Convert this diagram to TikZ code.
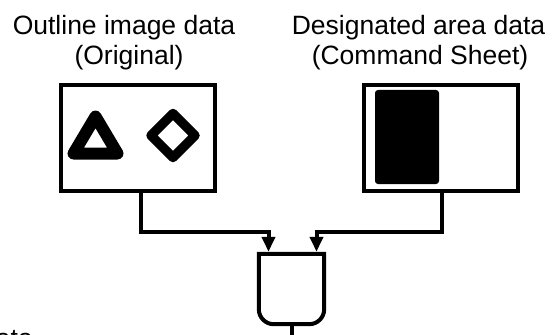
\documentclass[tikz,border=0pt]{standalone}
\usepackage{fontspec}
\setmainfont{Liberation Sans}
\usetikzlibrary{arrows.meta}
\begin{document}
\begin{tikzpicture}[x=1pt,y=-1pt,
  lbl/.style={font=\fontsize{26.5}{30}\selectfont, inner sep=0pt, anchor=base},
  frame/.style={draw, line width=4pt, minimum width=154pt, minimum height=106pt, inner sep=0pt},
  conn/.style={line width=4pt, -{Triangle[width=13pt,length=15pt]}},
  thick line/.style={line width=4pt}]
\clip (0,0) rectangle (553,334);
% titles
\node[lbl] (t1a) at (124,35) {Outline image data};
\node[lbl] (t1b) at (129,65) {(Original)};
\node[lbl] (t2a) at (418.5,35) {Designated area data};
\node[lbl] (t2b) at (420,65) {(Command Sheet)};
% boxes
\node[frame] (boxL) at (138,138) {};
\node[frame] (boxR) at (441,138) {};
% contents of left box
\draw[line width=12pt, line join=round] (73.5,153.5) -- (117.5,153.5) -- (95.5,116.5) -- cycle;
\draw[line width=9.5pt, line join=round] (151,135.5) -- (173,113.5) -- (195,135.5) -- (173,157.5) -- cycle;
% contents of right box
\node[fill=black, rounded corners=3pt, minimum width=64pt, minimum height=94pt, inner sep=0pt] (blk) at (407,137) {};
% gate
\node[minimum width=65pt, minimum height=70pt, inner sep=0pt] (gate) at (291.5,289) {};
\draw[thick line] (gate.north west) -- ([yshift=15pt]gate.south west)
  arc[start angle=180, end angle=270, radius=15pt]
  -- ([xshift=-15pt]gate.south east)
  arc[start angle=270, end angle=360, radius=15pt]
  -- (gate.north east) -- cycle;
\coordinate (stemEnd) at (291.5,345);
\draw[thick line] (gate.south) -- (stemEnd);
% connectors
\coordinate (jL) at (268.5,232);
\coordinate (jR) at (316.5,232);
\draw[conn] ([xshift=3pt]boxL.south) |- (jL) -- ([xshift=-23pt,yshift=2pt]gate.north);
\draw[conn] ([xshift=1pt]boxR.south) |- (jR) -- ([xshift=25pt,yshift=2pt]gate.north);
% cut-off text at bottom left
\node[lbl, anchor=base east] (cut) at (33,347) {ata};
\end{tikzpicture}
\end{document}
